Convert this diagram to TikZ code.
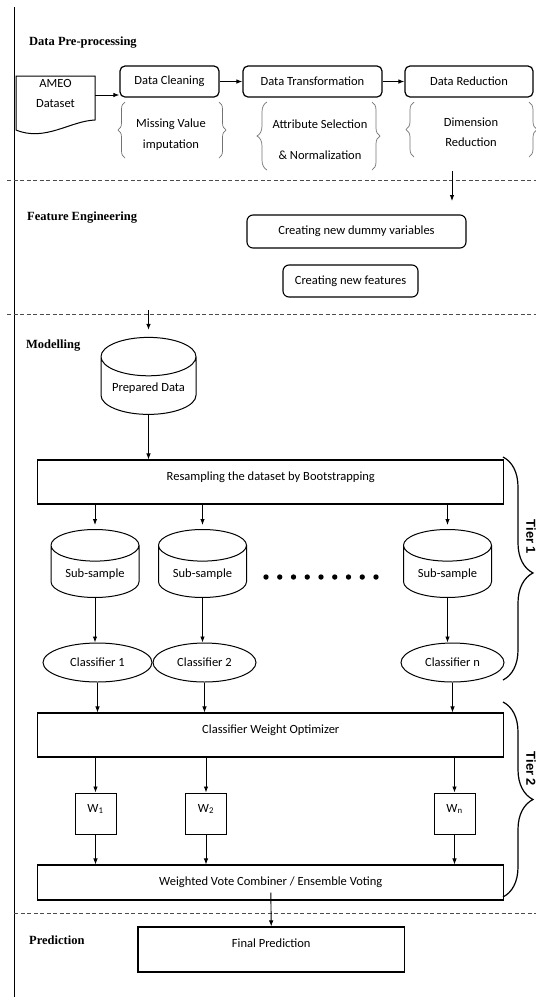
\documentclass[tikz,border=0pt]{standalone}
\usepackage{fontspec}
\setmainfont{Carlito}
\newfontfamily\headserif{Liberation Serif}
\newfontfamily\tiersans{Liberation Sans}
\usetikzlibrary{shapes.geometric,arrows.meta,decorations.pathreplacing}

\begin{document}
\begin{tikzpicture}[
    x=1pt, y=-1pt,
    every node/.style={font=\fontsize{12.5}{15}\selectfont, inner sep=2pt},
    arr/.style={-{Latex[length=6pt,width=4.5pt]}, line width=0.9pt},
    phase/.style={
        font=\headserif\bfseries\fontsize{12.5}{15}\selectfont,
        anchor=west,
        inner sep=0pt,
    },
    stage/.style={draw, rounded corners=5pt, line width=1.2pt, minimum height=31},
    featbox/.style={draw, rounded corners=6pt, line width=1.1pt},
    bigbox/.style={draw, line width=1.1pt, minimum width=466},
    raised/.style={text depth=12pt},
    store/.style={draw, cylinder, shape border rotate=90, aspect=0.5, line width=1pt},
    clf/.style={draw, ellipse, line width=1pt, minimum height=39, inner sep=0pt},
    wbox/.style={draw, line width=1pt, minimum width=41, minimum height=41, text depth=11pt},
    curly/.style={decorate, decoration={brace, amplitude=#1}, draw=black!55, line width=0.7pt},
    tierbrace/.style={decorate, decoration={brace, amplitude=30, aspect=#1}, line width=1.2pt},
    tierlabel/.style={font=\tiersans\bfseries\fontsize{13}{15}\selectfont, rotate=-90},
    sep/.style={dash pattern=on 4pt off 2.5pt, line width=0.8pt, black!70},
]

\useasboundingbox (0,0) rectangle (536,997);

% Row positions
\def\yPre{81.5}
\def\yRes{482}
\def\ySub{574}
\def\yClf{662.5}
\def\yOpt{735}
\def\yW{813.5}
\def\yVote{882.5}

% --- Frame and phase separators ---
\draw[line width=0.9pt] (14.4,7) -- (14.4,997);
\draw[sep] (7,180) -- (536,180);
\draw[sep] (7,314) -- (536,314);
\draw[sep] (14,913) -- (536,913);

% --- Data Pre-processing ---
\node[phase] (preT) at (29,43) {Data Pre-processing};

\node[minimum width=79, font=\fontsize{12.5}{20}\selectfont, align=center] (ameo) at (55.5,93)
    {AMEO\\Dataset};
\draw[line width=1pt] (16,76) -- (95,76) -- (95,120) .. controls (70,121) and (45,142) .. (16,130) -- cycle;

\node[stage, minimum width=99] (clean) at (169.5,\yPre) {Data Cleaning};
\node[stage, minimum width=139] (trans) at (312.5,\yPre) {Data Transformation};
\node[stage, minimum width=128] (reduce) at (469,\yPre) {Data Reduction};

\draw[arr] ([yshift=-2pt]ameo.east) -- ([yshift=-2pt]ameo.east -| clean.west);
\draw[arr] (clean) -- (trans);
\draw[arr] (trans) -- (reduce);

% what each stage does
\node[align=center, font=\fontsize{12.5}{21}\selectfont] (miss) at (171,134.5)
    {Missing Value\\imputation};
\node[align=center, font=\fontsize{12.5}{31}\selectfont] (attr) at (320,139.5)
    {Attribute Selection\\\& Normalization};
\node[align=center, font=\fontsize{12.5}{20}\selectfont] (dimr) at (471,132)
    {Dimension\\Reduction};

\draw[curly=7] (125,158) -- (125,102);
\draw[curly=7] (219,102) -- (219,158);
\draw[curly=10] (267,170) -- (267,102);
\draw[curly=8] (372,102) -- (372,170);
\draw[curly=8] (414,157) -- (414,102);
\draw[curly=8] (529,102) -- (529,157);

\coordinate (redout) at (452,171);
\coordinate (featin) at (452,201);
\draw[arr] (redout) -- (featin);

% --- Feature Engineering ---
\node[phase] (featT) at (27,218) {Feature Engineering};
\node[featbox, minimum width=219, minimum height=33] (dummy) at (356.5,231.5)
    {Creating new dummy variables};
\node[featbox, minimum width=135, minimum height=32] (newf) at (350.5,281)
    {Creating new features};

% --- Modelling ---
\node[phase] (modT) at (26,346) {Modelling};
\coordinate (modin) at (148.5,310);
\node[store, minimum width=95, minimum height=77] (prep) at (148.5,388.5) {Prepared Data};
\draw[arr] (modin) -- ([yshift=7pt]prep.north);

\node[bigbox, raised, minimum height=44] (resample) at (270.8,\yRes)
    {Resampling the dataset by Bootstrapping};
\draw[arr] (prep.south) -- (prep.south |- resample.north);

% Tier 1: bootstrap sub-samples and base classifiers
\node[store, minimum width=88, minimum height=68] (sub1) at (95,\ySub) {Sub-sample};
\node[store, minimum width=88, minimum height=68] (sub2) at (202.5,\ySub) {Sub-sample};
\node[store, minimum width=88, minimum height=68] (subn) at (447.5,\ySub) {Sub-sample};
\foreach \i in {0,...,8}
    \fill (266+\i*13.75,577) circle (2.7);

\node[clf, minimum width=109] (cls1) at (97.5,\yClf) {Classifier 1};
\node[clf, minimum width=103] (cls2) at (204.5,\yClf) {Classifier 2};
\node[clf, minimum width=103] (clsn) at (452.5,\yClf) {Classifier n};

\foreach \s/\c in {sub1/cls1, sub2/cls2, subn/clsn} {
    \draw[arr] (\s.north |- resample.south) -- ([yshift=4pt]\s.north);
    \draw[arr] (\s.south) -- (\s.south |- \c.north);
}

% Tier 2: weighting and voting
\node[bigbox, raised, minimum height=44] (opt) at (270.8,\yOpt) {Classifier Weight Optimizer};
\node[bigbox, minimum height=35] (vote) at (270.8,\yVote) {Weighted Vote Combiner / Ensemble Voting};

\node[wbox] (w1) at (95.5,\yW) {W\textsubscript{1}};
\node[wbox] (w2) at (206,\yW) {W\textsubscript{2}};
\node[wbox] (wn) at (454.5,\yW) {W\textsubscript{n}};

\foreach \c in {cls1, cls2, clsn}
    \draw[arr] (\c.south) -- (\c.south |- opt.north);
\foreach \w in {w1, w2, wn} {
    \draw[arr] (\w.north |- opt.south) -- (\w.north);
    \draw[arr] (\w.south) -- (\w.south |- vote.north);
}

\draw[tierbrace=0.52] (503,457) -- (503,680);
\node[tierlabel] (tier1) at (531,537) {Tier 1};
\draw[tierbrace=0.5] (503,702) -- (503,897);
\node[tierlabel] (tier2) at (531,769) {Tier 2};

% --- Prediction ---
\node[phase] (predT) at (29,940) {Prediction};
\node[draw, line width=1.1pt, raised, minimum width=266.5, minimum height=45] (final) at (271.25,949.5)
    {Final Prediction};
\draw[arr] ([yshift=8pt]vote.south) -- (final.north);

\end{tikzpicture}
\end{document}
